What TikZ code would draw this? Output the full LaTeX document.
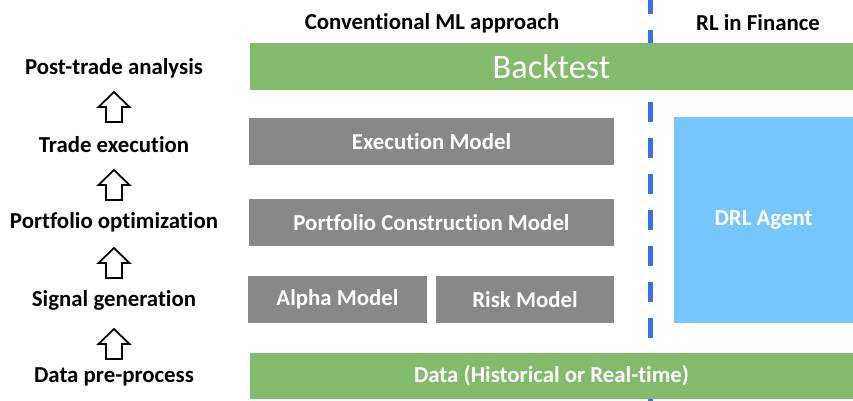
\documentclass[tikz,border=0pt]{standalone}
\usepackage{fontspec}
\setmainfont{Carlito}[Ligatures={NoCommon}]
\usepackage{tikz}

\definecolor{barGreen}{RGB}{130,187,108}
\definecolor{boxGray}{RGB}{136,136,136}
\definecolor{agentBlue}{RGB}{120,198,255}
\definecolor{splitBlue}{RGB}{58,110,232}

\tikzset{
  stage/.style={font=\fontsize{13}{15}\selectfont\bfseries, inner sep=0pt},
  head/.style={font=\fontsize{13}{15}\selectfont\bfseries, inner sep=0pt},
  block/.style={fill=boxGray, text=white, inner sep=0pt,
    font=\fontsize{13}{15}\selectfont\bfseries},
  bar/.style={fill=barGreen, text=white, inner sep=0pt,
    minimum width=12.06cm, minimum height=0.93cm},
  hollowup/.pic={
    \draw[line width=1pt, line join=miter]
      (0,0) -- (15.5,15) -- (8,15) -- (8,30) -- (-8,30) -- (-8,15) -- (-15.5,15) -- cycle;
  }
}

\begin{document}
\begin{tikzpicture}[x=0.02cm, y=-0.02cm]
    \useasboundingbox (0,0) rectangle (853,401);

    % Divider between the two approaches
    \coordinate (divtop) at (650,-6);
    \coordinate (divbot) at (650,401);
    \draw[splitBlue, line width=0.1cm, dash pattern=on 0.4cm off 0.32cm] (divtop) -- (divbot);

    % Column headings
    \node[head] (mlhead) at (432,23) {Conventional ML approach};
    \node[head] (rlhead) at (758,23) {RL in Finance};

    % Green bars
    \node[bar, font=\fontsize{19.5}{22}\selectfont] (backtest) at (551.5,66.5) {Backtest};
    \node[bar, font=\fontsize{13}{15}\selectfont\bfseries] (data) at (551.5,376) {Data (Historical or Real-time)};

    % Gray model boxes
    \node[block, minimum width=7.3cm, minimum height=0.94cm] (exec) at (431.5,141.5) {Execution Model};
    \node[block, minimum width=7.3cm, minimum height=0.94cm] (pcm) at (431.5,222.5) {Portfolio Construction Model};
    \node[block, minimum width=3.58cm, minimum height=0.94cm] (alpha) at (337.5,299.5) {Alpha Model};
    \node[block, minimum width=3.56cm, minimum height=0.94cm] (risk) at (525,299.5) {Risk Model};

    % DRL agent
    \node[block, fill=agentBlue, minimum width=3.58cm, minimum height=4.12cm] (drl) at (763.5,220) {DRL Agent};

    % Stages on the left
    \node[stage] (post) at (114,68) {Post-trade analysis};
    \node[stage] (trade) at (114,145) {Trade execution};
    \node[stage] (portf) at (114,222) {Portfolio optimization};
    \node[stage] (signal) at (114,300) {Signal generation};
    \node[stage] (prep) at (114,377) {Data pre-process};

    % Hollow arrows between stages
    \foreach \ty in {92,170,248,329}
        \pic at (114,\ty) {hollowup};
\end{tikzpicture}
\end{document}
